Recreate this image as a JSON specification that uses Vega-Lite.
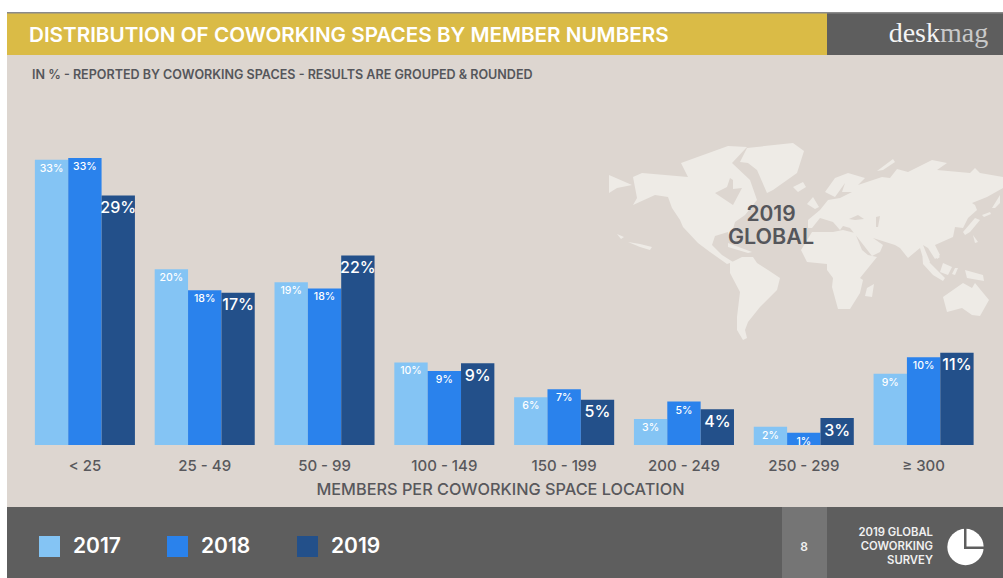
{
"$schema":"https://vega.github.io/schema/vega-lite/v6.json",
"width":1003,"height":578,"padding":0,"autosize":{"type":"none"},"background":"#ffffff",
"config":{"font":"Inter","view":{"stroke":null}},
"datasets":{"bars":[
{"group":"< 25","year":"2017","share":32.8,"label":"33%"},{"group":"< 25","year":"2018","share":33,"label":"33%"},{"group":"< 25","year":"2019","share":28.7,"label":"29%"},
{"group":"25 - 49","year":"2017","share":20.2,"label":"20%"},{"group":"25 - 49","year":"2018","share":17.8,"label":"18%"},{"group":"25 - 49","year":"2019","share":17.5,"label":"17%"},
{"group":"50 - 99","year":"2017","share":18.7,"label":"19%"},{"group":"50 - 99","year":"2018","share":18,"label":"18%"},{"group":"50 - 99","year":"2019","share":21.8,"label":"22%"},
{"group":"100 - 149","year":"2017","share":9.5,"label":"10%"},{"group":"100 - 149","year":"2018","share":8.5,"label":"9%"},{"group":"100 - 149","year":"2019","share":9.4,"label":"9%"},
{"group":"150 - 199","year":"2017","share":5.5,"label":"6%"},{"group":"150 - 199","year":"2018","share":6.4,"label":"7%"},{"group":"150 - 199","year":"2019","share":5.2,"label":"5%"},
{"group":"200 - 249","year":"2017","share":3,"label":"3%"},{"group":"200 - 249","year":"2018","share":5,"label":"5%"},{"group":"200 - 249","year":"2019","share":4.1,"label":"4%"},
{"group":"250 - 299","year":"2017","share":2.1,"label":"2%"},{"group":"250 - 299","year":"2018","share":1.4,"label":"1%"},{"group":"250 - 299","year":"2019","share":3.1,"label":"3%"},
{"group":"≥ 300","year":"2017","share":8.2,"label":"9%"},{"group":"≥ 300","year":"2018","share":10.1,"label":"10%"},{"group":"≥ 300","year":"2019","share":10.6,"label":"11%"}
],"one":[{"item":"decor"}]},
"layer":[
{"data":{"name":"one"},"mark":{"type":"rect","fill":"#DDD6D0"},"encoding":{"x":{"value":7},"x2":{"value":1003},"y":{"value":55},"y2":{"value":507}}},
{"data":{"name":"one"},"mark":{"type":"rect","fill":"#DABB46"},"encoding":{"x":{"value":7},"x2":{"value":827},"y":{"value":13},"y2":{"value":55}}},
{"data":{"name":"one"},"mark":{"type":"rect","fill":"#5E5E5E"},"encoding":{"x":{"value":827},"x2":{"value":1003},"y":{"value":13},"y2":{"value":55}}},
{"data":{"name":"one"},"mark":{"type":"rect","fill":"#8A8A8A"},"encoding":{"x":{"value":7},"x2":{"value":1003},"y":{"value":12},"y2":{"value":13.5}}},
{"data":{"name":"one"},"mark":{"type":"rect","fill":"#5E5E5E"},"encoding":{"x":{"value":7},"x2":{"value":1003},"y":{"value":507},"y2":{"value":578}}},
{"data":{"name":"one"},"mark":{"type":"rect","fill":"#757575"},"encoding":{"x":{"value":782},"x2":{"value":827},"y":{"value":507},"y2":{"value":578}}},
{"data":{"name":"one"},"mark":{"type":"point","filled":true,"opacity":1,"strokeWidth":0,"size":4,"fill":"#EEEBE6","shape":"M633 177L642 173L688 177L681 163L728 146L747 147L732 163L750 180L757 200L745 215L735 222L730 240L728 232L715 236L712 245L722 255L733 262L727 264L710 252L698 243L683 227L680 220L672 208L668 197L655 195L633 205L637 198ZM730 178L727 187L715 193L733 205L742 188L733 189L733 180ZM740 162L747 148L793 143L804 151L797 173L773 190L767 193L757 170L748 163ZM793 187L803 182L806 187L798 192ZM609 175L632 185L617 188L609 193ZM617 234L624 237L621 239ZM628 242L640 244L652 247L650 250L640 247ZM728 243L752 252L748 253L728 247ZM730 263L742 257L753 257L757 263L768 270L780 278L777 290L760 307L748 322L745 330L747 338L743 340L737 330L737 317L740 292L730 273ZM808 220L820 210L828 200L840 198L852 192L842 192L845 183L835 197L825 192L835 178L848 173L865 178L858 185L882 177L890 178L897 169L908 172L932 160L947 163L937 170L970 173L975 168L980 173L1003 177L1003 188L987 197L972 203L975 205L977 210L968 218L963 228L955 227L953 237L935 245L940 255L935 259L928 248L923 245L930 262L925 265L920 248L908 258L900 248L895 245L873 238L883 245L880 252L872 256L858 238L850 228L843 226L840 230L833 222L820 218L812 228L808 228ZM849 219L855 220L864 219L858 215ZM876 217L876 227L878 227L880 216ZM877 171L893 159L895 162L883 170ZM807 204L813 197L819 207L815 209ZM812 232L833 232L843 230L855 233L862 250L868 255L877 257L860 278L863 280L860 293L850 309L838 309L832 287L833 278L827 270L827 264L807 262L801 250ZM867 288L874 284L872 297L865 296ZM963 232L975 218L980 220L970 232L965 235ZM992 208L1000 195L1000 203L995 208ZM982 215L990 212L991 214L984 217ZM973 235L978 242L975 243ZM922 250L930 263L945 278L943 281L933 275L923 264ZM943 263L952 267L948 275L940 272ZM955 268L958 268L955 275L952 274ZM965 270L983 275L984 281L967 278ZM932 250L940 257L937 259ZM943 297L963 283L972 288L975 283L989 300L980 316L972 315L962 308L947 312Z"},"encoding":{"x":{"value":0},"y":{"value":0}}},
{"data":{"name":"bars"},"mark":{"type":"bar","strokeWidth":0},"encoding":{
 "x":{"field":"group","type":"nominal","sort":null,"title":"MEMBERS PER COWORKING SPACE LOCATION","scale":{"range":[25,983.5],"paddingInner":0.165,"paddingOuter":0.0825},
  "axis":{"orient":"bottom","offset":-133,"zindex":1,"domain":false,"ticks":false,"labelAngle":0,"labelPadding":13,"labelFont":"Inter","labelFontSize":15,"labelFontWeight":500,"labelColor":"#58585C","titleFont":"Inter","titleFontSize":16.3,"titleFontWeight":500,"titleColor":"#58585C","titlePadding":8,"titleX":500}},
 "xOffset":{"field":"year","type":"nominal"},
 "y":{"field":"share","type":"quantitative","scale":{"domain":[0,33],"range":[445,158],"nice":false,"zero":false},"axis":null},
 "color":{"field":"year","type":"nominal","scale":{"domain":["2017","2018","2019"],"range":["#84C4F4","#2A82EC","#23508A"]},
  "legend":{"orient":"none","legendX":39,"legendY":536,"direction":"horizontal","columns":3,"title":null,"symbolType":"square","symbolSize":441,"symbolStrokeWidth":0,"symbolOpacity":1,"labelColor":"#FFFFFF","labelFont":"Inter","labelFontSize":21,"labelFontWeight":600,"labelOffset":13,"columnPadding":46}}
}},
{"data":{"name":"bars"},"transform":[{"filter":"datum.year !== '2019'"}],"mark":{"type":"text","font":"Inter","fontSize":10.5,"fontWeight":500,"color":"#FFFFFF","baseline":"middle","dy":9},"encoding":{
 "x":{"field":"group","type":"nominal","sort":null},"xOffset":{"field":"year","type":"nominal"},"y":{"field":"share","type":"quantitative"},"text":{"field":"label"}}},
{"data":{"name":"bars"},"transform":[{"filter":"datum.year === '2019'"}],"mark":{"type":"text","font":"Inter","fontSize":16,"fontWeight":500,"color":"#FFFFFF","baseline":"middle","dy":12.5},"encoding":{
 "x":{"field":"group","type":"nominal","sort":null},"xOffset":{"field":"year","type":"nominal"},"y":{"field":"share","type":"quantitative"},"text":{"field":"label"}}},
{"data":{"values":[{"t":"DISTRIBUTION OF COWORKING SPACES BY MEMBER NUMBERS"}]},"mark":{"type":"text","font":"Inter","fontSize":20.65,"fontWeight":600,"color":"#FFFFFF","align":"left","baseline":"middle"},"encoding":{"text":{"field":"t"},"x":{"value":29},"y":{"value":36}}},
{"data":{"values":[{"t":"IN % - REPORTED BY COWORKING SPACES - RESULTS ARE GROUPED & ROUNDED"}]},"mark":{"type":"text","font":"Inter","fontSize":12.55,"fontWeight":600,"color":"#55565B","align":"left","baseline":"middle"},"encoding":{"text":{"field":"t"},"x":{"value":32},"y":{"value":75}}},
{"data":{"values":[{"t":"desk"}]},"mark":{"type":"text","font":"Liberation Serif","fontSize":28,"fontWeight":500,"color":"#F4F4F4","align":"right","baseline":"middle"},"encoding":{"text":{"field":"t"},"x":{"value":940},"y":{"value":34}}},
{"data":{"values":[{"t":"mag"}]},"mark":{"type":"text","font":"Liberation Serif","fontSize":28,"color":"#C9C9C9","align":"left","baseline":"middle"},"encoding":{"text":{"field":"t"},"x":{"value":940},"y":{"value":34}}},
{"data":{"values":[{"t":"2019"}]},"mark":{"type":"text","font":"Inter","fontSize":21,"fontWeight":600,"color":"#55565B","align":"center","baseline":"middle"},"encoding":{"text":{"field":"t"},"x":{"value":771},"y":{"value":215}}},
{"data":{"values":[{"t":"GLOBAL"}]},"mark":{"type":"text","font":"Inter","fontSize":21.5,"fontWeight":600,"color":"#55565B","align":"center","baseline":"middle"},"encoding":{"text":{"field":"t"},"x":{"value":771},"y":{"value":238}}},
{"data":{"values":[{"t":"8"}]},"mark":{"type":"text","font":"Inter","fontSize":12,"fontWeight":600,"color":"#F0F0F0","align":"center","baseline":"middle"},"encoding":{"text":{"field":"t"},"x":{"value":804},"y":{"value":547}}},
{"data":{"values":[{"t":"2019 GLOBAL","row":533},{"t":"COWORKING","row":547},{"t":"SURVEY","row":561}]},"mark":{"type":"text","font":"Inter","fontSize":11.3,"fontWeight":600,"color":"#F0F0F0","align":"right","baseline":"middle"},"encoding":{"text":{"field":"t"},"x":{"value":933},"y":{"field":"row","type":"quantitative","scale":null}}},
{"data":{"name":"one"},"mark":{"type":"point","shape":"circle","filled":true,"opacity":1,"strokeWidth":0,"size":1320,"fill":"#FFFFFF"},"encoding":{"x":{"value":965.5},"y":{"value":547}}},
{"data":{"name":"one"},"mark":{"type":"rect","fill":"#5E5E5E"},"encoding":{"x":{"value":964},"x2":{"value":966.5},"y":{"value":526},"y2":{"value":549}}},
{"data":{"name":"one"},"mark":{"type":"rect","fill":"#5E5E5E"},"encoding":{"x":{"value":964},"x2":{"value":987},"y":{"value":546.5},"y2":{"value":549}}}
]
}
